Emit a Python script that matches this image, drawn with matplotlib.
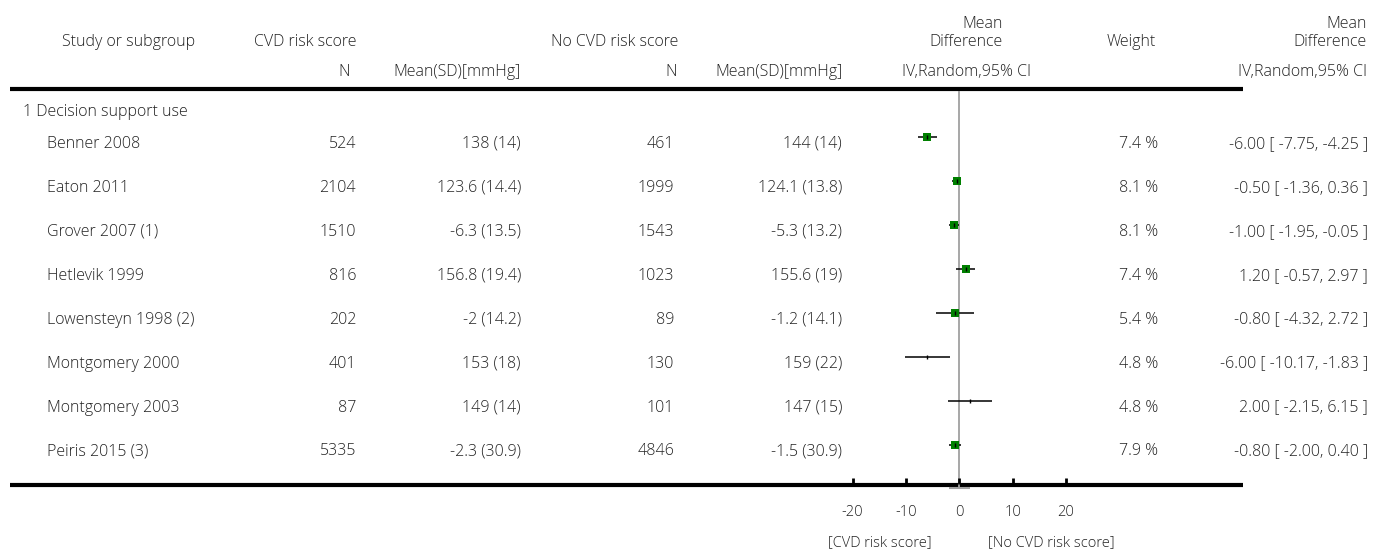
import matplotlib.pyplot as plt
import numpy as np

plt.rcParams['font.family'] = ['Open Sans', 'DejaVu Sans']

subgroup = '1 Decision support use'
studies = ['Benner 2008', 'Eaton 2011', 'Grover 2007 (1)', 'Hetlevik 1999',
           'Lowensteyn 1998 (2)', 'Montgomery 2000', 'Montgomery 2003', 'Peiris 2015 (3)']
n_cvd = [524, 2104, 1510, 816, 202, 401, 87, 5335]
mean_cvd = ['138 (14)', '123.6 (14.4)', '-6.3 (13.5)', '156.8 (19.4)',
            '-2 (14.2)', '153 (18)', '149 (14)', '-2.3 (30.9)']
n_none = [461, 1999, 1543, 1023, 89, 130, 101, 4846]
mean_none = ['144 (14)', '124.1 (13.8)', '-5.3 (13.2)', '155.6 (19)',
             '-1.2 (14.1)', '159 (22)', '147 (15)', '-1.5 (30.9)']
md = [-6.00, -0.50, -1.00, 1.20, -0.80, -6.00, 2.00, -0.80]
ci_low = [-7.75, -1.36, -1.95, -0.57, -4.32, -10.17, -2.15, -2.00]
ci_high = [-4.25, 0.36, -0.05, 2.97, 2.72, -1.83, 6.15, 0.40]
weight = [7.4, 8.1, 8.1, 7.4, 5.4, 4.8, 4.8, 7.9]
xticks = [-20, -10, 0, 10, 20]
left_label = '[CVD risk score]'
right_label = '[No CVD risk score]'

W, H = 1373, 551
fig = plt.figure(figsize=(W / 100, H / 100), dpi=100)

# text layer in pixel coordinates
tax = fig.add_axes([0, 0, 1, 1])
tax.set_xlim(0, W)
tax.set_ylim(H, 0)
tax.axis('off')

# forest layer: x in mean-difference units, y in pixels
x0_px, px_per_unit = 959.3, 5.34
fax = fig.add_axes([0, 0, 1, 1])
fax.set_xlim(-x0_px / px_per_unit, (W - x0_px) / px_per_unit)
fax.set_ylim(H, 0)
fax.axis('off')
fax.patch.set_alpha(0)

fs = 11.5
txt = dict(fontsize=fs, color='#222222', fontweight='light')
small = dict(fontsize=10.5, color='#222222', fontweight='light')

# headers
tax.text(129, 42.5, 'Study or subgroup', ha='center', va='center', **txt)
tax.text(356, 42.5, 'CVD risk score', ha='right', va='center', **txt)
tax.text(350, 71.5, 'N', ha='right', va='center', **txt)
tax.text(521, 71.5, 'Mean(SD)[mmHg]', ha='right', va='center', **txt)
tax.text(678, 42.5, 'No CVD risk score', ha='right', va='center', **txt)
tax.text(677, 71.5, 'N', ha='right', va='center', **txt)
tax.text(843, 71.5, 'Mean(SD)[mmHg]', ha='right', va='center', **txt)
tax.text(1003, 24.5, 'Mean', ha='right', va='center', **txt)
tax.text(1003, 42.5, 'Difference', ha='right', va='center', **txt)
tax.text(967, 71.5, 'IV,Random,95% CI', ha='center', va='center', **txt)
tax.text(1131, 42.5, 'Weight', ha='center', va='center', **txt)
tax.text(1367, 24.5, 'Mean', ha='right', va='center', **txt)
tax.text(1367, 42.5, 'Difference', ha='right', va='center', **txt)
tax.text(1367, 71.5, 'IV,Random,95% CI', ha='right', va='center', **txt)

tax.plot([10, 1243], [89, 89], color='black', lw=3, solid_capstyle='butt')
tax.plot([10, 1243], [485, 485], color='black', lw=3, solid_capstyle='butt')

tax.text(23, 112.5, subgroup, ha='left', va='center', **txt)

row_y = 137.3 + 43.95 * np.arange(len(studies))
for i, y in enumerate(row_y):
    ty = y + 6.5
    tax.text(47, ty, studies[i], ha='left', va='center', **txt)
    tax.text(356, ty, f'{n_cvd[i]}', ha='right', va='center', **txt)
    tax.text(521, ty, mean_cvd[i], ha='right', va='center', **txt)
    tax.text(674, ty, f'{n_none[i]}', ha='right', va='center', **txt)
    tax.text(842, ty, mean_none[i], ha='right', va='center', **txt)
    tax.text(1158, ty, f'{weight[i]:.1f} %', ha='right', va='center', **txt)
    tax.text(1368, ty, f'{md[i]:.2f} [ {ci_low[i]:.2f}, {ci_high[i]:.2f} ]',
             ha='right', va='center', **txt)

# reference line at zero
fax.vlines(0, 91, 487, color='#a0a0a0', lw=1.3)
fax.hlines(488, -2, 2, color='#a0a0a0', lw=1.5)

# confidence intervals and weighted squares
fax.hlines(row_y, ci_low, ci_high, color='black', lw=1.1)
sizes = np.where(np.array(weight) > 5, 5.2, 0)
for i, y in enumerate(row_y):
    if sizes[i] > 0:
        fax.plot(md[i], y, marker='s', ms=sizes[i], color='#008000',
                 markeredgewidth=0, zorder=3)
fax.plot(md, row_y, marker='|', ms=3, color='black', lw=0, mew=1, zorder=4)

# axis ticks and labels
fax.vlines(xticks, 478, 484, color='black', lw=2)
for t in xticks:
    fax.text(t, 512.5, f'{t}', ha='center', va='center', **small)
tax.text(880, 542.5, left_label, ha='center', va='center', **small)
tax.text(1051, 542.5, right_label, ha='center', va='center', **small)

fig.savefig('out.png', dpi=100)
